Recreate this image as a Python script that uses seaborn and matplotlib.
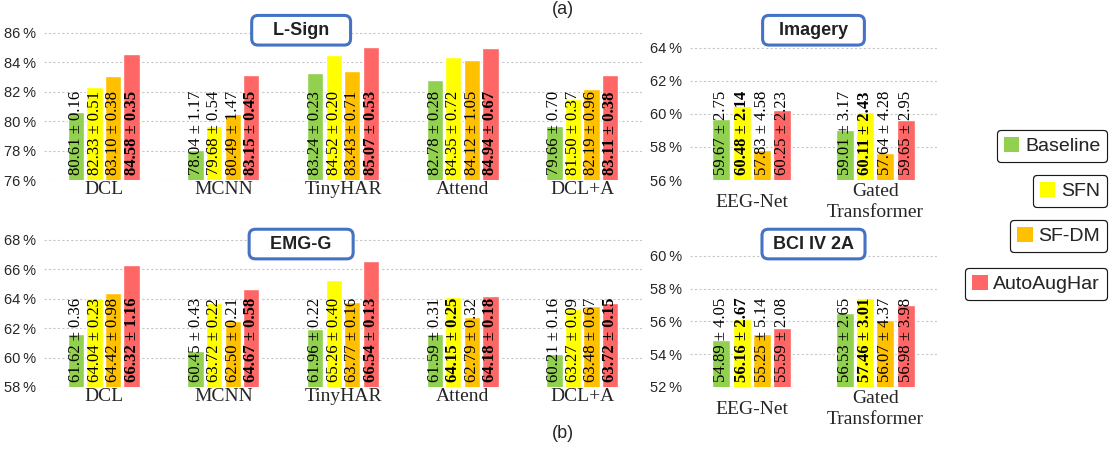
import numpy as np
import pandas as pd
import seaborn as sns
import matplotlib.pyplot as plt
from matplotlib.patches import Patch

methods = ['Baseline', 'SFN', 'SF-DM', 'AutoAugHar']
colors = ['#92D050', '#FFFF00', '#FFC000', '#FF6666']

har_models = ['DCL', 'MCNN', 'TinyHAR', 'Attend', 'DCL+A']
eeg_models = ['EEG-Net', 'Gated\nTransformer']

# L-Sign (rows = methods, cols = models)
lsign_mean = [[80.61, 78.04, 83.24, 82.78, 79.66],
              [82.33, 79.68, 84.52, 84.35, 81.50],
              [83.10, 80.49, 83.43, 84.12, 82.19],
              [84.58, 83.15, 85.07, 84.94, 83.11]]
lsign_std = [[0.16, 1.17, 0.23, 0.28, 0.70],
             [0.51, 0.54, 0.20, 0.72, 0.37],
             [0.38, 1.47, 0.71, 1.05, 0.96],
             [0.35, 0.45, 0.53, 0.67, 0.38]]

# EMG-G
emg_mean = [[61.62, 60.45, 61.96, 61.59, 60.21],
            [64.04, 63.72, 65.26, 64.15, 63.27],
            [64.42, 62.50, 63.77, 62.79, 63.48],
            [66.32, 64.67, 66.54, 64.18, 63.72]]
emg_std = [[0.36, 0.43, 0.22, 0.31, 0.16],
           [0.23, 0.22, 0.40, 0.25, 0.09],
           [0.98, 0.21, 0.16, 0.32, 0.67],
           [1.16, 0.58, 0.13, 0.18, 0.15]]

# Imagery
img_mean = [[59.67, 59.01],
            [60.48, 60.11],
            [57.83, 57.64],
            [60.25, 59.65]]
img_std = [[2.75, 3.17],
           [2.14, 2.43],
           [4.58, 4.28],
           [2.23, 2.95]]

# BCI IV 2A
bci_mean = [[54.89, 56.53],
            [56.16, 57.46],
            [55.25, 56.07],
            [55.59, 56.98]]
bci_std = [[4.05, 2.65],
           [2.67, 3.01],
           [5.14, 4.37],
           [2.08, 3.98]]

# labels shown in bold (method, model)
lsign_bold = [('AutoAugHar', m) for m in har_models]
emg_bold = [('AutoAugHar', m) for m in har_models] + [('SFN', 'Attend')]
img_bold = [('SFN', m) for m in eeg_models]
bci_bold = [('SFN', m) for m in eeg_models]

lsign_ticks = [76, 78, 80, 82, 84, 86]
emg_ticks = [58, 60, 62, 64, 66, 68]
img_ticks = [56, 58, 60, 62, 64]
bci_ticks = [52, 54, 56, 58, 60]


def make_df(models, mean, std):
    rows = []
    for i, meth in enumerate(methods):
        for j, mod in enumerate(models):
            rows.append({'model': mod, 'method': meth,
                         'value': mean[i][j], 'std': std[i][j]})
    return pd.DataFrame(rows)


sns.set_theme(style='white')
plt.rcParams['font.family'] = ['Liberation Sans', 'DejaVu Sans']

fig = plt.figure(figsize=(11.12, 4.51), dpi=100)


def panel(rect, models, mean, std, bold, ticks, ylim, title, width, title_y, right=False):
    ax = fig.add_axes(rect)
    df = make_df(models, mean, std)
    sns.barplot(data=df, x='model', y='value', hue='method', order=models,
                hue_order=methods, palette=colors, width=width, gap=0.12,
                legend=False, ax=ax, errorbar=None, saturation=1)
    ax.set_ylim(*ylim)
    ax.set_yticks(ticks)
    ax.set_yticklabels([f'{t}\u2009%' for t in ticks], fontsize=10.5)
    ax.yaxis.grid(True, linestyle=(0, (2, 2)), color='#c8c8c8', linewidth=0.8)
    ax.set_axisbelow(True)
    for s in ax.spines.values():
        s.set_visible(False)
    ax.tick_params(axis='y', length=0, pad=6)
    ax.tick_params(axis='x', length=0)
    ax.set_xlabel('')
    ax.set_ylabel('')
    for lab in ax.get_xticklabels():
        lab.set_fontfamily('Liberation Serif')
        lab.set_fontsize(14)
        if right:
            lab.set_va('center')
            lab.set_linespacing(1.35)
    ax.tick_params(axis='x', pad=16 if right else 1)

    for i, cont in enumerate(ax.containers):
        meth = methods[i]
        for j, bar in enumerate(cont):
            mod = models[j]
            txt = f'{mean[i][j]:.2f} ± {std[i][j]:.2f}'
            ax.annotate(txt, (bar.get_x() + bar.get_width() / 2, ylim[0]),
                        xytext=(0, 3.5), textcoords='offset points',
                        rotation=90, ha='center', va='bottom', fontsize=12,
                        family='Liberation Serif',
                        fontweight='bold' if (meth, mod) in bold else 'normal',
                        color='black')

    ax.text(0.5 if right else 0.43, title_y, title,
            transform=ax.transAxes, ha='center', va='center', fontsize=13,
            fontweight='bold', color='#222222',
            bbox=dict(boxstyle='round,pad=0.35', facecolor='white',
                      edgecolor='#4472C4', linewidth=2.2))
    return ax


W = 1112
H = 451


def rect(x0, x1, ytop, ybot):
    return [x0 / W, 1 - ybot / H, (x1 - x0) / W, (ybot - ytop) / H]


panel(rect(44, 642, 24, 180), har_models, lsign_mean, lsign_std, lsign_bold,
      lsign_ticks, (76, 86.6), '   L-Sign   ', 0.62, 0.96)
panel(rect(690, 937, 24, 180), eeg_models, img_mean, img_std, img_bold,
      img_ticks, (56, 65.45), '  Imagery  ', 0.66, 0.96, right=True)
panel(rect(44, 642, 237, 387), har_models, emg_mean, emg_std, emg_bold,
      emg_ticks, (58, 68.2), '   EMG-G   ', 0.62, 0.953)
panel(rect(690, 937, 237, 387), eeg_models, bci_mean, bci_std, bci_bold,
      bci_ticks, (52, 61.16), ' BCI IV 2A ', 0.66, 0.953, right=True)

# separate legend boxes
tops = [130, 175, 220, 268]
for meth, col, top in zip(methods, colors, tops):
    leg = fig.legend(handles=[Patch(facecolor=col, edgecolor='none', label=meth)],
                     loc='upper right', bbox_to_anchor=(1107 / W, 1 - top / H),
                     frameon=True, fancybox=True, fontsize=14, handlelength=0.8,
                     handleheight=0.8, handletextpad=0.3, borderpad=0.35,
                     borderaxespad=0)
    leg.get_frame().set_edgecolor('black')
    leg.get_frame().set_linewidth(0.8)
    fig.add_artist(leg)

fig.text(563 / W, 1 - 1 / H, '(a)', ha='center', va='top', fontsize=13)
fig.text(563 / W, 1 - 433 / H, '(b)', ha='center', va='center', fontsize=13)

fig.savefig('out.png', dpi=100)
